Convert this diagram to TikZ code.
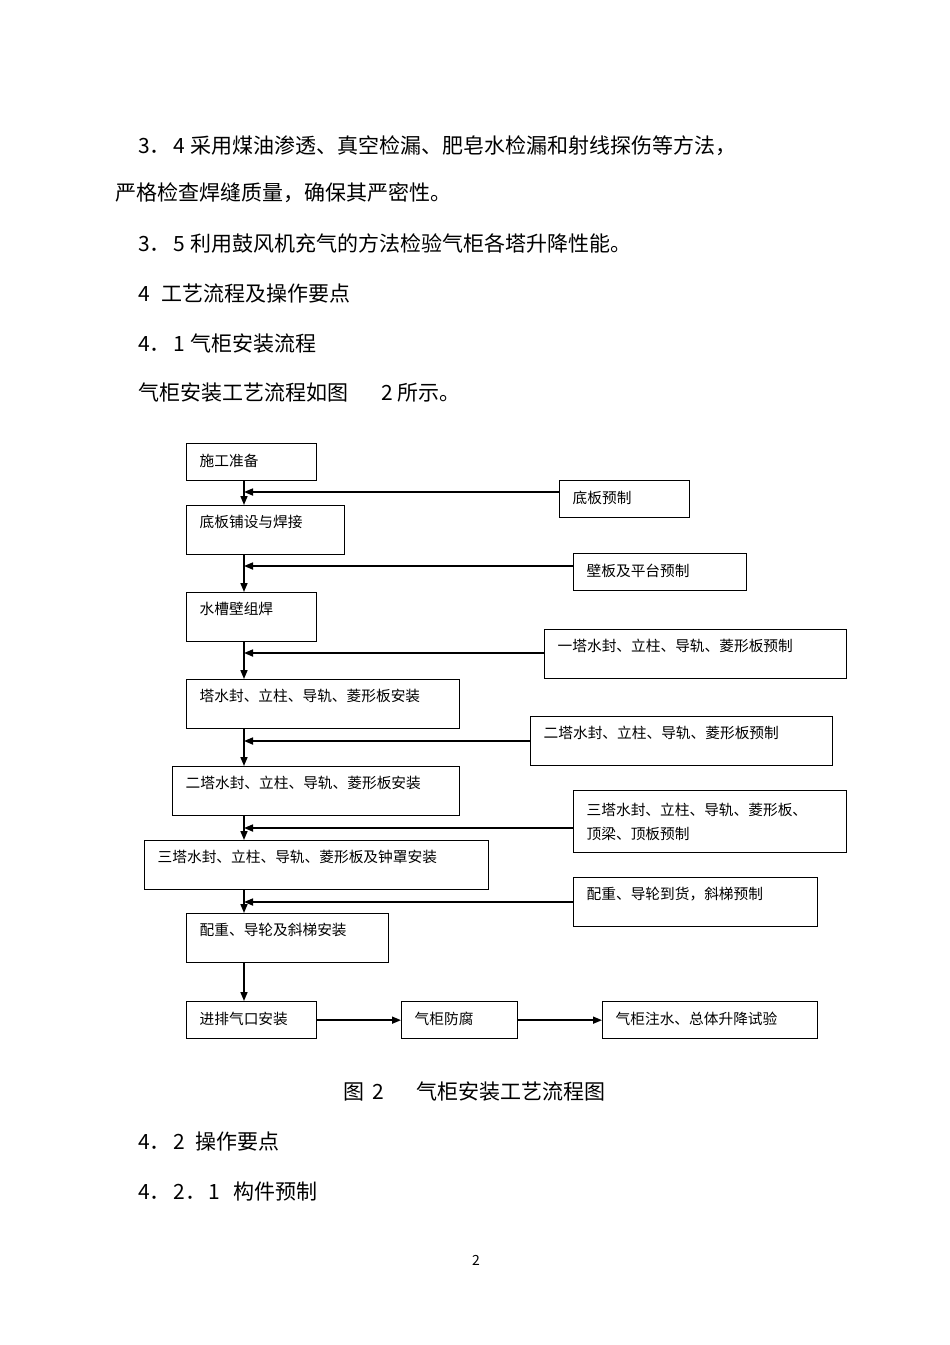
\documentclass[tikz,border=0pt]{standalone}
\usepackage{fontspec}
\setmainfont{Noto Sans CJK SC}
\usetikzlibrary{arrows.meta}

\begin{document}
\begin{tikzpicture}[x=1pt,y=-1pt,
  box/.style={draw, line width=1.3pt, anchor=north west, align=left, inner xsep=13pt, inner ysep=0pt, font=\fontsize{14.7}{24}\selectfont},
  short/.style={text height=23pt, text depth=14pt},
  tall/.style={text height=22pt, text depth=27pt},
  arr/.style={line width=1.6pt, -{Triangle[length=9pt,width=7pt]}},
  para/.style={anchor=base west, inner sep=0pt, font=\fontsize{21}{21}\selectfont}]
  %page
  \fill[white] (0,0) rectangle (950,1345);
  \useasboundingbox (0,0) rectangle (950,1345);
  %Text above the chart
  \node[para] (t1) at (138,153) {3．\hspace{3pt}4 采用煤油渗透、真空检漏、肥皂水检漏和射线探伤等方法，};
  \node[para] (t2) at (115,200) {严格检查焊缝质量，确保其严密性。};
  \node[para] (t3) at (138,251) {3．\hspace{3pt}5 利用鼓风机充气的方法检验气柜各塔升降性能。};
  \node[para] (t4) at (138,301) {4\hspace{12pt}工艺流程及操作要点};
  \node[para] (t5) at (138,351) {4．\hspace{3pt}1 气柜安装流程};
  \node[para] (t6) at (138,400) {气柜安装工艺流程如图\hspace{33pt}2 所示。};
  %Main column
  \node[box, short, text width=104pt] (prep) at (186,443) {施工准备};
  \node[box, tall, text width=132pt] (lay) at (186,505) {底板铺设与焊接};
  \node[box, tall, text width=104pt] (tank) at (186,592) {水槽壁组焊};
  \node[box, tall, text width=247pt] (ins1) at (186,679) {塔水封、立柱、导轨、菱形板安装};
  \node[box, tall, text width=261pt] (ins2) at (172,766) {二塔水封、立柱、导轨、菱形板安装};
  \node[box, tall, text width=318pt] (ins3) at (144,840) {三塔水封、立柱、导轨、菱形板及钟罩安装};
  \node[box, tall, text width=176pt] (cwins) at (186,913) {配重、导轮及斜梯安装};
  %Bottom row
  \node[box, short, text width=104pt] (vent) at (186,1001) {进排气口安装};
  \node[box, short, text width=90pt] (anti) at (401,1001) {气柜防腐};
  \node[box, short, text width=189pt] (test) at (602,1001) {气柜注水、总体升降试验};
  %Prefabrication
  \node[box, short, text width=104pt] (plate) at (559,480) {底板预制};
  \node[box, short, text width=147pt] (wall) at (573,553) {壁板及平台预制};
  \node[box, tall, text width=276pt] (pre1) at (544,629) {一塔水封、立柱、导轨、菱形板预制};
  \node[box, tall, text width=276pt] (pre2) at (530,716) {二塔水封、立柱、导轨、菱形板预制};
  \node[box, minimum height=62pt, text width=247pt] (pre3) at (573,790) {三塔水封、立柱、导轨、菱形板、\\顶梁、顶板预制};
  \node[box, tall, text width=218pt] (cwpre) at (573,877) {配重、导轮到货，斜梯预制};
  %Joints on the trunk
  \coordinate (j1) at (244,492);
  \coordinate (j2) at (244,566);
  \coordinate (j3) at (244,653);
  \coordinate (j4) at (244,741);
  \coordinate (j5) at (244,828);
  \coordinate (j6) at (244,902);
  %Arrows down
  \draw[arr] (prep.south -| j1) -- (lay.north -| j1);
  \draw[arr] (lay.south -| j1) -- (tank.north -| j1);
  \draw[arr] (tank.south -| j1) -- (ins1.north -| j1);
  \draw[arr] (ins1.south -| j1) -- (ins2.north -| j1);
  \draw[arr] (ins2.south -| j1) -- (ins3.north -| j1);
  \draw[arr] (ins3.south -| j1) -- (cwins.north -| j1);
  \draw[arr] (cwins.south -| j1) -- (vent.north -| j1);
  %Arrows in from the right
  \draw[arr] (plate.west |- j1) -- (j1);
  \draw[arr] (wall.west |- j2) -- (j2);
  \draw[arr] (pre1.west |- j3) -- (j3);
  \draw[arr] (pre2.west |- j4) -- (j4);
  \draw[arr] (pre3.west |- j5) -- (j5);
  \draw[arr] (cwpre.west |- j6) -- (j6);
  %Bottom row arrows
  \draw[arr] (vent) -- (anti);
  \draw[arr] (anti) -- (test);
  %Caption and text below
  \node[para] (cap) at (343,1099) {图\hspace{8pt}2\hspace{33pt}气柜安装工艺流程图};
  \node[para] (t7) at (138,1149) {4．\hspace{3pt}2\hspace{10pt}操作要点};
  \node[para] (t8) at (138,1199) {4．\hspace{3pt}2．\hspace{2pt}1\hspace{13pt}构件预制};
  \node[anchor=base, inner sep=0pt, font=\fontsize{14}{14}\selectfont] (pg) at (476,1265) {2};
\end{tikzpicture}
\end{document}
